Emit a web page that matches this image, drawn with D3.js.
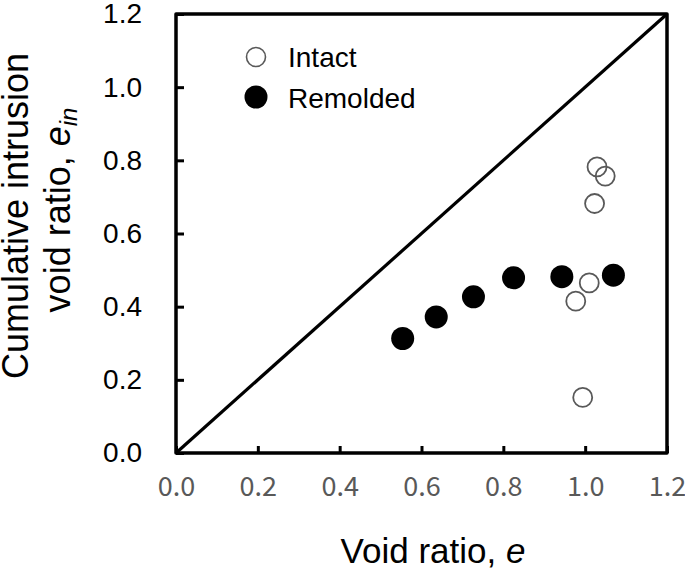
<!DOCTYPE html>
<html>
<head>
<meta charset="utf-8">
<script src="https://cdn.jsdelivr.net/npm/d3@7"></script>
<style>
  html, body { margin: 0; padding: 0; background: #fff; }
  svg { display: block; }
</style>
</head>
<body>
<svg id="chart" width="685" height="572"></svg>
<script>
// ---- data ----
const intactE   = [1.029, 1.049, 1.023, 1.010, 0.977, 0.994];
const intactEin = [0.782, 0.757, 0.682, 0.465, 0.415, 0.152];
const remoldedE   = [0.554, 0.636, 0.727, 0.825, 0.943, 1.069];
const remoldedEin = [0.313, 0.372, 0.427, 0.479, 0.482, 0.486];
const xTicks = [0, 0.2, 0.4, 0.6, 0.8, 1.0, 1.2];
const yTicks = [0, 0.2, 0.4, 0.6, 0.8, 1.0, 1.2];
const legendLabels = ["Intact", "Remolded"];

const svg = d3.select("#chart");
const L = 176, R = 667, T = 14, B = 453;
const x = d3.scaleLinear().domain([0, 1.2]).range([L, R]);
const y = d3.scaleLinear().domain([0, 1.2]).range([B, T]);

// x axis (inside ticks)
const xAxis = svg.append("g").attr("transform", `translate(0,${B})`)
  .call(d3.axisBottom(x).tickValues(xTicks).tickFormat(d3.format(".1f"))
    .tickSizeInner(-7).tickSizeOuter(0).tickPadding(24));
xAxis.select(".domain").remove();
xAxis.selectAll("line").attr("stroke", "#000").attr("stroke-width", 3);
xAxis.selectAll("text").attr("fill", "#595959")
  .style("font-family", "'Noto Sans CJK JP', 'Noto Sans', sans-serif").style("font-size", "27px");

// y axis
const yAxis = svg.append("g").attr("transform", `translate(${L},0)`)
  .call(d3.axisLeft(y).tickValues(yTicks).tickFormat(d3.format(".1f"))
    .tickSizeInner(-8).tickSizeOuter(0).tickPadding(34));
yAxis.select(".domain").remove();
yAxis.selectAll("line").attr("stroke", "#000").attr("stroke-width", 3);
yAxis.selectAll("text").attr("fill", "#000")
  .style("font-family", "'Liberation Sans', Arial, sans-serif").style("font-size", "28px");

// diagonal 1:1 line
svg.append("line")
  .attr("x1", x(0)).attr("y1", y(0)).attr("x2", x(1.2)).attr("y2", y(1.2))
  .attr("stroke", "#000").attr("stroke-width", 3.2);

// frame
svg.append("rect")
  .attr("x", L).attr("y", T).attr("width", R - L).attr("height", B - T)
  .attr("fill", "none").attr("stroke", "#000").attr("stroke-width", 3.5)
  .attr("stroke-linejoin", "round");

// points
svg.append("g").selectAll("circle").data(remoldedE).join("circle")
  .attr("cx", d => x(d)).attr("cy", (d, i) => y(remoldedEin[i]))
  .attr("r", 11.5).attr("fill", "#000");

svg.append("g").selectAll("circle").data(intactE).join("circle")
  .attr("cx", d => x(d)).attr("cy", (d, i) => y(intactEin[i]))
  .attr("r", 9.5).attr("fill", "none").attr("stroke", "#595959").attr("stroke-width", 1.8);

// legend
const lg = svg.append("g").style("font-family", "'Liberation Sans', Arial, sans-serif").style("font-size", "28px");
lg.append("circle").attr("cx", 256).attr("cy", 57).attr("r", 9.5)
  .attr("fill", "none").attr("stroke", "#595959").attr("stroke-width", 1.6);
lg.append("text").attr("x", 288).attr("y", 67).text(legendLabels[0]);
lg.append("circle").attr("cx", 256).attr("cy", 97).attr("r", 11.5).attr("fill", "#000");
lg.append("text").attr("x", 288).attr("y", 108).text(legendLabels[1]);

// x title
const xt = svg.append("text").attr("x", 433).attr("y", 563).attr("text-anchor", "middle")
  .style("font-family", "'Liberation Sans', Arial, sans-serif").style("font-size", "35px");
xt.append("tspan").text("Void ratio, ");
xt.append("tspan").style("font-style", "italic").text("e");

// y title
const yt = svg.append("g").attr("transform", "translate(0,0)")
  .style("font-family", "'Liberation Sans', Arial, sans-serif").style("font-size", "36px");
yt.append("text").attr("transform", "translate(28,216) rotate(-90)").attr("text-anchor", "middle")
  .text("Cumulative intrusion");
const t2 = yt.append("text").attr("transform", "translate(70,210) rotate(-90)").attr("text-anchor", "middle");
t2.append("tspan").text("void ratio, ");
t2.append("tspan").style("font-style", "italic").text("e");
t2.append("tspan").style("font-style", "italic").style("font-size", "24px").attr("dy", 7).text("in");
</script>
</body>
</html>
